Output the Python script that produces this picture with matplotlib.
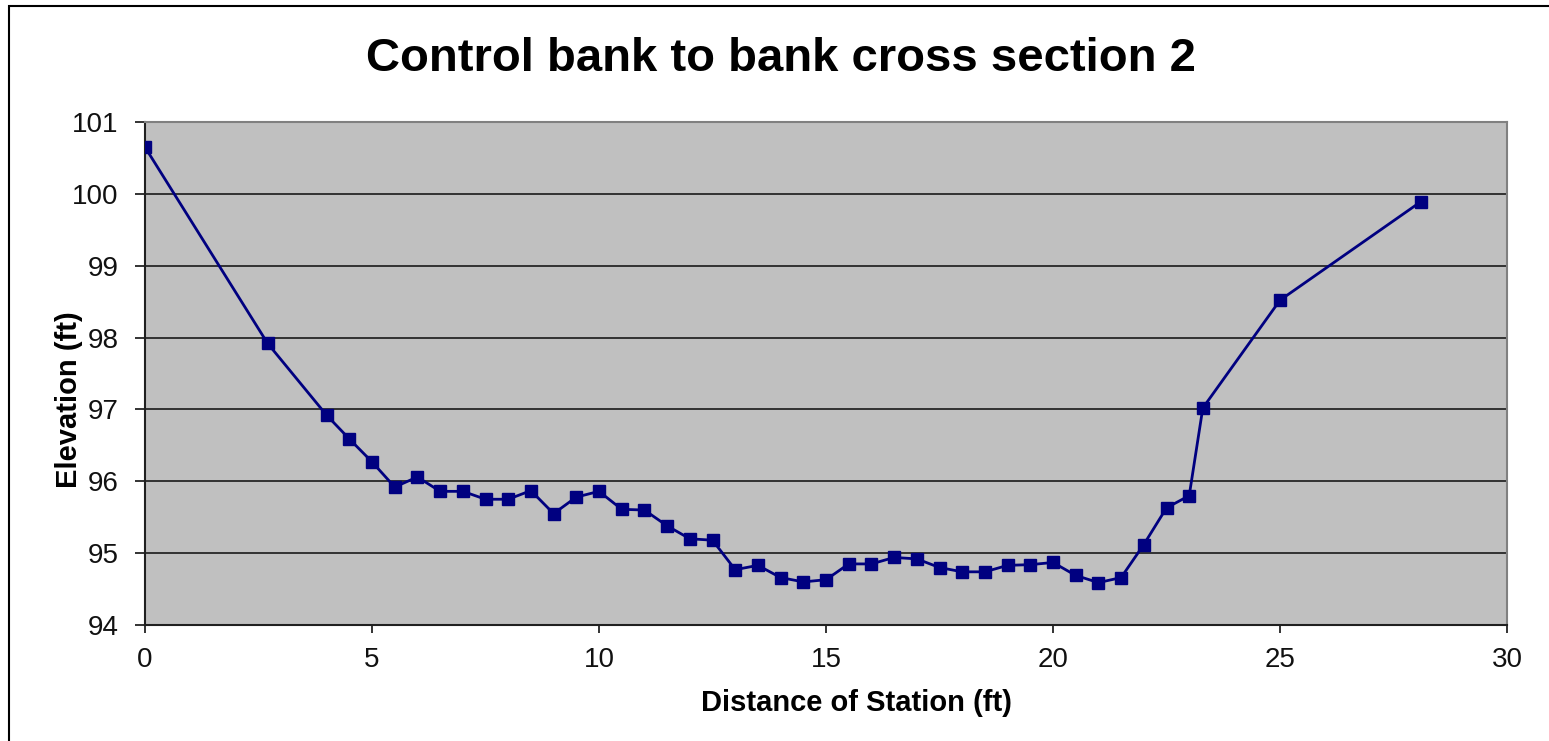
import matplotlib
matplotlib.use("Agg")
from matplotlib import pyplot as plt
from matplotlib.patches import Rectangle

# station distance (ft) and elevation (ft)
distance = [0, 2.7, 4, 4.5, 5, 5.5, 6, 6.5, 7, 7.5, 8, 8.5, 9, 9.5, 10,
            10.5, 11, 11.5, 12, 12.5, 13, 13.5, 14, 14.5, 15, 15.5, 16,
            16.5, 17, 17.5, 18, 18.5, 19, 19.5, 20, 20.5, 21, 21.5, 22,
            22.5, 23, 23.3, 25, 28.1]
elevation = [100.65, 97.92, 96.92, 96.59, 96.27, 95.92, 96.06, 95.86, 95.86,
             95.75, 95.75, 95.87, 95.55, 95.78, 95.86, 95.61, 95.60, 95.38,
             95.20, 95.18, 94.77, 94.83, 94.66, 94.60, 94.63, 94.85, 94.85,
             94.94, 94.92, 94.80, 94.74, 94.74, 94.83, 94.84, 94.87, 94.69,
             94.59, 94.66, 95.12, 95.63, 95.80, 97.02, 98.52, 99.89]

title = "Control bank to bank cross section 2"
x_label = "Distance of Station (ft)"
y_label = "Elevation (ft)"

plt.rcParams['font.family'] = ['Liberation Sans', 'DejaVu Sans']

W, H = 1549, 741
fig = plt.figure(figsize=(W / 100, H / 100), dpi=100)
ax = fig.add_axes([145 / W, 1 - 625 / H, (1507 - 145) / W, (625 - 122) / H])

ax.set_facecolor("#C0C0C0")
ax.plot(distance, elevation, color="#000080", lw=2.0, marker="s",
        markersize=9, markeredgecolor="#000080", markerfacecolor="#000080",
        zorder=3)

ax.set_xlim(0, 30)
ax.set_ylim(94, 101)
ax.set_xticks(range(0, 31, 5))
ax.set_yticks(range(94, 102))
ax.yaxis.grid(True, color="#1a1a1a", lw=1.2)
ax.set_axisbelow(True)

for side in ['left', 'bottom']:
    ax.spines[side].set_color("#202020")
    ax.spines[side].set_linewidth(1.5)
for side in ['top', 'right']:
    ax.spines[side].set_color("#808080")
    ax.spines[side].set_linewidth(1.5)

ax.tick_params(axis='x', direction='out', length=6, width=1.2, pad=10,
               labelsize=20, colors="#111111")
ax.tick_params(axis='y', direction='out', length=7, width=1.2, pad=12,
               labelsize=20, colors="#111111")

fig.text(781 / W, 1 - 59 / H, title, ha="center", va="center",
         fontsize=34, fontweight="bold")
fig.text(857 / W, 1 - 703 / H, x_label, ha="center", va="center",
         fontsize=21, fontweight="bold")
fig.text(69 / W, 1 - 400 / H, y_label, ha="center", va="center",
         fontsize=21, fontweight="bold", rotation=90)

# outer chart border
fig.patches.append(Rectangle((8.5 / W, -0.05), 1.0, 1.05 - 6.5 / H,
                             transform=fig.transFigure, fill=False,
                             edgecolor="black", lw=1.5))

fig.savefig("out.png", dpi=100)
